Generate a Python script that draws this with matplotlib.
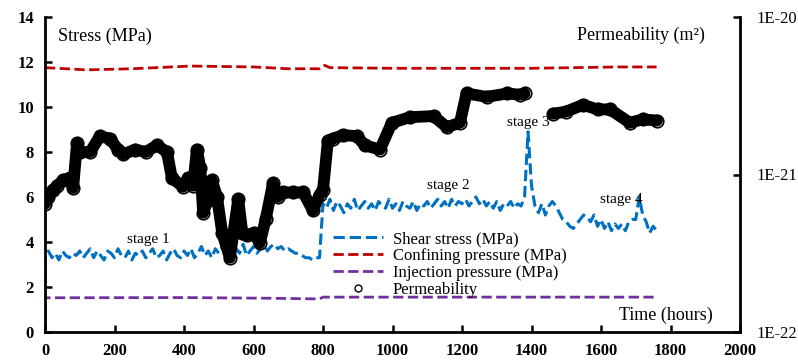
import numpy as np
import matplotlib.pyplot as plt
from matplotlib.lines import Line2D
from matplotlib.ticker import FixedLocator, NullLocator, FuncFormatter

plt.rcParams['font.family'] = ['Liberation Serif', 'DejaVu Serif']

# shear stress, sampled every 10 h (plus the initial zero at t=0)
shear_t = [0] + list(range(0, 1770, 10))
shear = [0.0,
         3.4, 3.6, 3.3, 3.5, 3.2, 3.6, 3.4, 3.3, 3.5, 3.4,
         3.6, 3.3, 3.5, 3.7, 3.3, 3.6, 3.4, 3.2, 3.6, 3.5,
         3.3, 3.7, 3.4, 3.3, 3.6, 3.2, 3.5, 3.4, 3.6, 3.3,
         3.5, 3.7, 3.3, 3.4, 3.6, 3.2, 3.5, 3.7, 3.4, 3.3,
         3.6, 3.4, 3.7, 3.3, 3.5, 3.8, 3.4, 3.6, 3.3, 3.7,
         3.5, 3.8, 3.4, 3.6, 3.3, 3.7, 3.5, 3.9, 3.4, 3.6,
         3.8, 3.5, 3.7, 3.9, 3.6, 3.8, 3.9, 3.7, 3.8, 3.6,
         3.7, 3.6, 3.5, 3.5, 3.4, 3.3, 3.3, 3.2, 3.3, 3.3,
         5.7, 5.5, 5.9, 5.4, 5.8, 5.6, 5.3, 5.7, 5.5, 5.9,
         5.4, 5.6, 5.8, 5.5, 5.7, 5.4, 5.8, 5.6, 5.5, 5.9,
         5.5, 5.7, 5.4, 5.8, 5.6, 5.5, 5.8, 5.4, 5.7, 5.6,
         5.8, 5.5, 5.7, 5.9, 5.6, 5.8, 5.5, 5.9, 5.6, 5.8,
         5.7, 5.9, 5.6, 5.8, 6.0, 5.7, 5.9, 5.6, 5.8, 5.5,
         5.8, 5.4, 5.7, 5.6, 5.8, 5.5, 5.7, 5.6, 6.0, 8.9,
         6.5, 5.6, 5.3, 5.7, 5.2, 5.6, 5.8, 5.6, 5.3, 5.0,
         4.9, 4.7, 4.6, 4.8, 5.0, 5.2, 5.1, 4.9, 5.2, 4.7,
         5.0, 4.6, 4.9, 4.5, 4.8, 4.6, 4.8, 4.5, 4.9, 5.0,
         5.0, 6.0, 5.2, 4.9, 4.4, 4.7, 4.5]

conf_t = [0, 120, 250, 420, 600, 700, 790, 805, 820, 1000, 1200, 1400, 1650, 1760]
confining = [11.75, 11.65, 11.7, 11.82, 11.78, 11.7, 11.7, 11.85, 11.75, 11.72, 11.72, 11.72, 11.78, 11.78]

inj_t = [0, 0, 400, 650, 790, 800, 1000, 1400, 1760]
injection = [0.0, 1.52, 1.53, 1.5, 1.47, 1.55, 1.55, 1.55, 1.55]

# permeability in units of 1e-21 m^2 (None = no data)
perm_t = [0, 10, 23, 35, 52, 72, 81, 92, 101, 130, 158, 187, 210, 225, 260, 290,
          322, 351, 365, 397, 412, 426, 437, 447, 455, 467, 480, 495, 510, 532,
          556, 568, 580, 600, 618, 635, 656, 670, 685, 714, 743, 771, 790, 800,
          814, 829, 858, 897, 921, 964, 998, 1050, 1118, 1156, 1194, 1213, 1271,
          1330, 1367, 1380, 1420, 1462, 1500, 1548, 1590, 1626, 1683, 1720, 1761]
perm = [0.652, 0.720, 0.794, 0.849, 0.921, 0.952, 0.821, 1.58, 1.39, 1.39, 1.75,
        1.69, 1.44, 1.345, 1.44, 1.39, 1.53, 1.39, 0.952, 0.835, 0.952, 0.849,
        1.44, 1.104, 0.571, 0.675, 0.921, 0.720, 0.425, 0.296, 0.697, 0.425,
        0.411, 0.425, 0.367, 0.518, 0.877, 0.720, 0.769, 0.769, 0.769, 0.591,
        0.743, 0.794, 1.64, 1.69, 1.78, 1.75, 1.53, 1.44, 2.13, 2.31, 2.35, 2.0,
        2.13, 3.27, 3.11, 3.27, 3.21, 3.27, None, 2.43, 2.51, 2.77, 2.59, 2.59,
        2.13, 2.24, 2.20]

blue = '#0070C0'
red = '#C00000'
purple = '#7030A0'

fig = plt.figure(figsize=(7.98, 3.61), dpi=100)
ax = fig.add_axes([45 / 798, 29 / 361, 695 / 798, 315 / 361])

ax.plot(shear_t, shear, color=blue, lw=2.2, ls='--', label='Shear stress (MPa)')
ax.plot(conf_t, confining, color=red, lw=2, ls='--', label='Confining pressure (MPa)')
ax.plot(inj_t, injection, color=purple, lw=2, ls='--', label='Injection pressure (MPa)')

ax.set_xlim(0, 2000)
ax.set_ylim(0, 14)
ax.set_xticks(range(0, 2001, 200))
ax.set_yticks(range(0, 15, 2))
ax.spines['top'].set_visible(False)
ax.spines['right'].set_visible(False)
for s in ['left', 'bottom']:
    ax.spines[s].set_linewidth(2)
ax.tick_params(direction='in', length=5, width=1.8, labelsize=12, pad=8)
for lab in ax.get_xticklabels() + ax.get_yticklabels():
    lab.set_fontweight('bold')

ax2 = ax.twinx()
k = np.array([np.nan if v is None else v * 1e-21 for v in perm])
ax2.plot(perm_t, k, color='black', lw=8.5, solid_capstyle='round', solid_joinstyle='round',
         marker='o', ms=9, mfc='none', mec='black', mew=1.2)
ax2.set_yscale('log')
ax2.set_ylim(1e-22, 1e-20)
ax2.yaxis.set_major_locator(FixedLocator([1e-22, 1e-21, 1e-20]))
ax2.yaxis.set_minor_locator(NullLocator())
ax2.yaxis.set_major_formatter(FuncFormatter(lambda v, p: '1E%d' % round(np.log10(v))))
for s in ['top', 'left', 'bottom']:
    ax2.spines[s].set_visible(False)
ax2.spines['right'].set_linewidth(2)
ax2.tick_params(direction='in', length=5, width=1.8, labelsize=12, pad=12)

ax.text(0.019, 0.94, 'Stress (MPa)', transform=ax.transAxes, fontsize=13, va='center')
ax.text(0.95, 0.943, 'Permeability (m²)', transform=ax.transAxes, fontsize=13,
        ha='right', va='center')
ax.text(0.961, 0.054, 'Time (hours)', transform=ax.transAxes, fontsize=13,
        ha='right', va='center')

for txt, tx, ty in [('stage 1', 296, 4.1), ('stage 2', 1160, 6.5),
                    ('stage 3', 1390, 9.3), ('stage 4', 1658, 5.9)]:
    ax.text(tx, ty, txt, fontsize=11, ha='center', va='center')

handles, labels = ax.get_legend_handles_labels()
handles.append(Line2D([], [], ls='none', marker='o', ms=5, mfc='white', mec='black'))
labels.append('Permeability')
ax2.legend(handles, labels, loc='upper left', bbox_to_anchor=(0.414, 0.32),
           frameon=False, fontsize=12, handlelength=3, handletextpad=0.6,
           labelspacing=0.05, borderpad=0, borderaxespad=0)

fig.savefig('out.png', dpi=100)
